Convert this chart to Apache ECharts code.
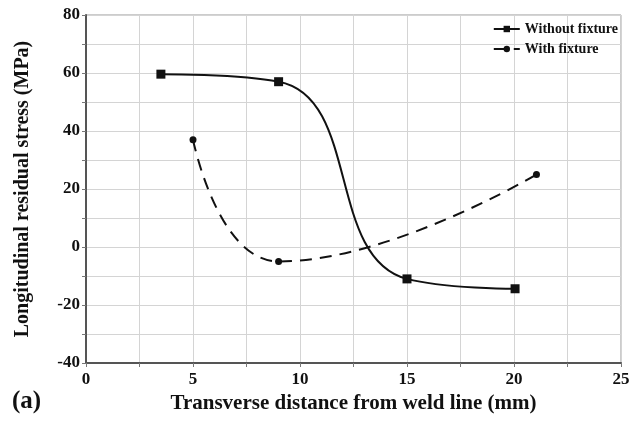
<!DOCTYPE html>
<html><head><meta charset="utf-8">
<script src="https://cdn.jsdelivr.net/npm/echarts@6/dist/echarts.min.js"></script>
<style>html,body{margin:0;padding:0;background:#fff}#c{width:641px;height:425px}</style>
</head><body><div id="c"></div>
<script>
const withoutX = [3.5, 9, 15, 20.05];
const withoutY = [59.6, 57, -11, -14.4];
const withX = [5, 9, 21.05];
const withY = [37, -5, 25];
const seriesNames = ['Without fixture', 'With fixture'];
const xTitle = 'Transverse distance from weld line (mm)';
const yTitle = 'Longitudinal residual stress (MPa)';
const panelLabel = '(a)';

const font = 'Liberation Serif';
const chart = echarts.init(document.getElementById('c'), null, {renderer: 'canvas'});
chart.setOption({
  animation: false,
  backgroundColor: '#fff',
  grid: {left: 86, right: 20, top: 15, bottom: 62, show: true, borderColor: '#999', borderWidth: 1},
  legend: {
    top: 17, right: 18, orient: 'vertical', itemGap: 6, itemWidth: 26, itemHeight: 8,
    textStyle: {fontFamily: font, fontWeight: 'bold', fontSize: 14, color: '#111'},
    data: seriesNames
  },
  graphic: [{type: 'text', left: 12, top: 389, style: {text: panelLabel, fontFamily: font, fontWeight: 'bold', fontSize: 25, fill: '#111'}}],
  xAxis: {
    type: 'value', min: 0, max: 25, interval: 5,
    name: xTitle, nameLocation: 'middle', nameGap: 30,
    nameTextStyle: {fontFamily: font, fontWeight: 'bold', fontSize: 21, color: '#111'},
    axisLine: {show: true, onZero: false, lineStyle: {color: '#555', width: 2}},
    axisTick: {show: true, length: 4, lineStyle: {color: '#777'}},
    minorTick: {show: true, splitNumber: 2, length: 4, lineStyle: {color: '#777'}},
    splitLine: {show: true, lineStyle: {color: '#d4d4d4', width: 1}},
    minorSplitLine: {show: true, lineStyle: {color: '#d4d4d4', width: 1}},
    axisLabel: {fontFamily: font, fontWeight: 'bold', fontSize: 17, color: '#111', margin: 8}
  },
  yAxis: {
    type: 'value', min: -40, max: 80, interval: 20,
    name: yTitle, nameLocation: 'middle', nameGap: 53,
    nameTextStyle: {fontFamily: font, fontWeight: 'bold', fontSize: 20, color: '#111'},
    axisLine: {show: true, onZero: false, lineStyle: {color: '#555', width: 2}},
    axisTick: {show: true, length: 4, lineStyle: {color: '#777'}},
    minorTick: {show: true, splitNumber: 2, length: 4, lineStyle: {color: '#777'}},
    splitLine: {show: true, lineStyle: {color: '#d4d4d4', width: 1}},
    minorSplitLine: {show: true, lineStyle: {color: '#d4d4d4', width: 1}},
    axisLabel: {fontFamily: font, fontWeight: 'bold', fontSize: 17, color: '#111', margin: 6}
  },
  series: [
    {
      name: seriesNames[0], type: 'line', smooth: 0.5,
      data: withoutX.map((x, i) => [x, withoutY[i]]),
      symbol: 'rect', symbolSize: 9,
      lineStyle: {color: '#111', width: 2},
      itemStyle: {color: '#111'}
    },
    {
      name: seriesNames[1], type: 'line', smooth: 0.5,
      data: withX.map((x, i) => [x, withY[i]]),
      symbol: 'circle', symbolSize: 7,
      lineStyle: {color: '#111', width: 2, type: [12, 8]},
      itemStyle: {color: '#111'}
    }
  ]
});
</script></body></html>
